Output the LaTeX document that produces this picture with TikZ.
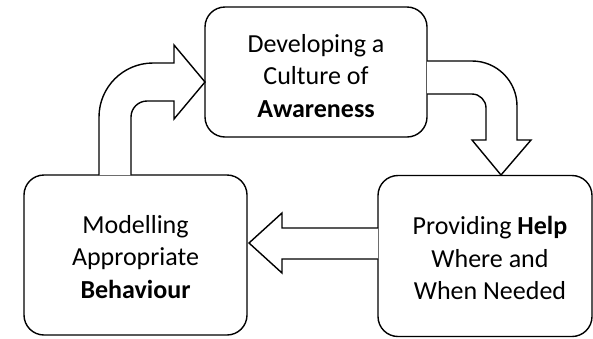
\documentclass[tikz,border=0pt]{standalone}
\usepackage{fontspec}
\setmainfont{Carlito}
\begin{document}
\begin{tikzpicture}[x=1pt,y=-1pt,
  box/.style={draw=black, line width=1.4pt, rounded corners=20pt, fill=white, inner sep=0pt},
  lbl/.style={align=center, font=\fontsize{26}{32.5}\selectfont, inner sep=0pt},
  blockarrow/.style={draw=black, line width=1.4pt, fill=white, line join=miter}]
\useasboundingbox (0,0) rectangle (593,338);
% boxes
\node[box, minimum width=222pt, minimum height=130pt] (top) at (316,72) {};
\node[lbl] (toptext) at (316,76) {Developing a\\Culture of\\\textbf{Awareness}};
\node[box, minimum width=223pt, minimum height=160pt] (left) at (135.5,255) {};
\node[lbl] (lefttext) at (135.5,257) {Modelling\\Appropriate\\\textbf{Behaviour}};
\node[box, minimum width=214pt, minimum height=161pt] (right) at (485,256) {};
\node[lbl] (righttext) at (490,258) {Providing \textbf{Help}\\Where and\\When Needed};
% up-right bent arrow: left box -> top box
\draw[blockarrow] (99,175) -- (99,117) .. controls (99,87.2) and (123.2,63) .. (153,63)
  -- (174,63) -- (174,45) -- (205,82) -- (174,119) -- (174,101) -- (147,101)
  .. controls (138.2,101) and (131,108.2) .. (131,117) -- (131,175);
% right-down bent arrow: top box -> right box
\draw[blockarrow] (427,61) -- (472,61) .. controls (496.9,61) and (517,81.1) .. (517,106)
  -- (517,140) -- (531,140) -- (501,175) -- (472,140) -- (486,140) -- (486,108)
  .. controls (486,100.3) and (479.7,94) .. (472,94) -- (427,94);
% left arrow: right box -> left box
\draw[blockarrow] (378,228) -- (282,228) -- (282,213) -- (249,243) -- (282,273)
  -- (282,259) -- (378,259);
\end{tikzpicture}
\end{document}
